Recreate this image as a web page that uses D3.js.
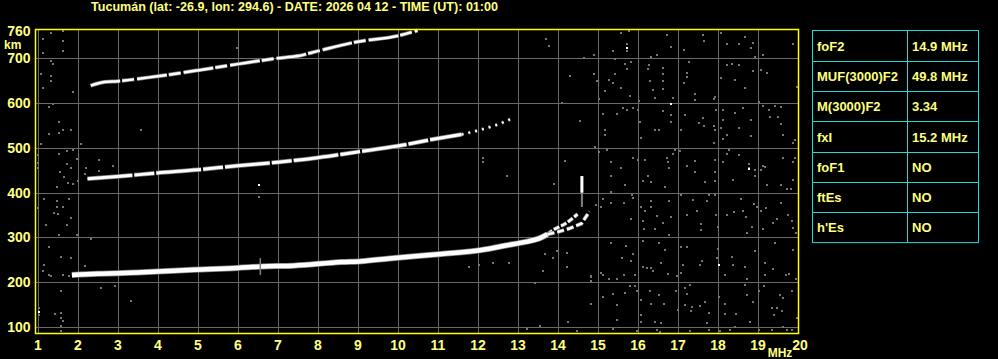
<!DOCTYPE html>
<html>
<head>
<meta charset="utf-8">
<script src="https://cdn.jsdelivr.net/npm/d3@7"></script>
<style>
  body { margin: 0; background: #000; }
  svg { display: block; }
  .lab { fill: #ffff80; font-family: "Liberation Sans", Arial, sans-serif; font-weight: bold; }
</style>
</head>
<body>
<script>
// chart size
var W = 998, H = 359;
var frame = {left: 35.5, top: 29.5, right: 798.5, bottom: 333.5};

var title = "Tucumán (lat: -26.9, lon: 294.6) - DATE: 2026 04 12 - TIME (UT): 01:00";

// tick labels
var freqLabels = [1, 2, 3, 4, 5, 6, 7, 8, 9, 10, 11, 12, 13, 14, 15, 16, 17, 18, 19, 20];
var heightLabels = [100, 200, 300, 400, 500, 600, 700];

// scaled parameters table
var paramNames = ["foF2", "MUF(3000)F2", "M(3000)F2", "fxI", "foF1", "ftEs", "h'Es"];
var paramValues = ["14.9 MHz", "49.8 MHz", "3.34", "15.2 MHz", "NO", "NO", "NO"];

// traces [MHz, km]
var traceF = [[1.86, 216], [2.5, 219], [3, 220], [4, 224], [4.9, 228], [6, 232], [6.6, 235], [7.4, 237],
              [8.6, 245], [9.1, 247], [9.8, 253], [11.1, 263], [12.1, 272], [12.7, 282], [13.2, 290],
              [13.55, 298], [13.75, 307]];
var traceO = [[13.75, 307], [13.9, 317], [14.2, 331], [14.5, 352]];
var traceX = [[13.75, 307], [14.0, 312], [14.3, 320], [14.6, 331], [14.8, 358]];
var spike = [[14.61, 368], [14.61, 437]];
var trace2F = [[2.25, 431], [3, 436], [4, 444], [5, 451], [6, 460], [7, 468], [8, 478], [9, 491],
               [10, 504], [11, 521], [11.6, 530]];
var trace2Ftail = [[11.6, 530], [12.1, 541], [12.5, 552], [12.9, 567]];
var trace3F = [[2.33, 639], [2.67, 647], [3, 649], [4, 660], [5, 673], [6, 687], [7, 700], [7.5, 705],
               [8, 716], [9, 737], [10, 750], [10.5, 762]];
var ticks = [[6.57, 216, 254]];

// background noise [MHz, km]
var noise = [
 [15.59,757],[15.79,761],[15.73,732],[15.73,716],[15.38,716],[14.92,708],[16.34,704],[16.48,707],[16.73,753],
 [16.84,725],[17.15,719],[17.63,753],[17.65,739],[18.08,757],[18.23,731],[18.53,731],[18.69,748],[18.88,735],
 [18.83,722],[19.13,708],[18.94,703],[19.90,731],[15.44,699],
 [15.69,688],[15.83,692],[14.90,664],[14.98,649],[15.19,626],[15.28,652],[15.38,645],[15.44,666],[15.58,634],
 [15.73,675],[15.80,616],[15.03,609],[16.28,686],[16.25,675],[16.30,649],[16.40,630],[16.63,678],[16.63,664],
 [16.63,649],[16.63,631],[16.44,611],[16.88,611],[16.03,604],[17.23,667],[17.23,658],[17.15,645],[17.29,692],
 [17.44,620],[17.44,608],[17.90,609],[17.94,613],[18.23,684],[18.36,688],[18.53,686],[18.09,656],[18.44,652],
 [18.69,634],[18.88,671],[19.09,673],[19.23,667],[19.04,602],[19.98,637],
 [15.13,576],[15.19,541],[15.19,528],[15.48,576],[15.63,589],[15.73,585],[15.88,588],[16.00,585],[16.05,558],
 [16.08,522],[16.44,541],[16.54,541],[16.63,582],[16.84,573],[16.84,558],[17.19,574],[17.08,541],[17.63,567],
 [17.54,556],[17.65,548],[17.90,548],[17.94,541],[17.90,511],[17.97,585],[18.13,585],[18.15,563],[18.08,544],
 [18.23,529],[18.15,520],[18.44,578],[18.53,544],[18.63,589],[18.84,563],[18.83,527],[19.13,594],[19.29,585],
 [19.44,593],[19.59,591],[19.32,570],[19.50,570],[19.59,554],[19.63,528],[19.88,511],[19.94,518],[14.93,501],
 [15.03,491],[15.23,496],[15.33,468],[15.33,438],[15.59,455],[15.69,416],[15.88,477],[16.00,474],[16.19,474],
 [16.13,427],[16.25,438],[16.34,423],[16.69,413],[16.73,477],[16.76,468],[16.79,455],[16.90,486],[16.94,496],
 [17.05,494],[17.23,460],[17.44,470],[17.44,446],[17.69,423],[17.94,474],[17.94,446],[17.94,425],[18.23,486],
 [18.28,496],[18.53,485],[18.38,429],[18.13,468],[18.78,464],[18.78,455],[18.94,451],[18.94,438],[19.09,451],
 [19.13,460],[19.19,458],[19.25,418],[19.58,418],[19.63,477],[19.88,468],[19.93,477],[19.73,408],[19.84,408],
 [19.88,429],
 [15.13,386],[15.34,401],[15.33,378],[14.97,373],[15.09,368],[15.65,377],[15.86,394],[15.88,387],[15.83,341],
 [16.09,368],[16.13,337],[16.19,358],[16.15,319],[16.34,381],[16.34,369],[16.48,347],[16.63,332],[16.79,382],
 [16.84,346],[16.79,305],[16.44,319],[17.08,395],[17.23,349],[17.38,383],[17.48,360],[17.58,330],[17.58,317],
 [17.73,381],[17.78,395],[17.94,395],[17.97,351],[18.00,323],[18.23,351],[18.42,357],[18.59,386],[18.63,360],
 [18.72,345],[18.73,311],[18.86,323],[18.90,375],[18.98,368],[19.08,360],[19.13,319],[19.21,366],[19.38,332],
 [19.48,341],[19.59,377],[19.75,349],[19.86,336],[19.90,321],[19.97,310],
 [15.33,287],[15.61,254],[15.72,280],[15.88,263],[15.83,247],[15.09,220],[15.13,217],[15.28,207],[15.48,207],
 [15.65,217],[15.94,215],[16.13,293],[16.13,234],[16.23,232],[16.33,232],[16.38,224],[16.53,287],[16.58,243],
 [16.68,273],[16.75,218],[16.98,213],[17.08,279],[17.23,279],[17.13,239],[17.09,220],[17.55,239],[17.61,247],
 [18.00,275],[17.98,254],[18.04,239],[18.19,217],[18.36,256],[18.38,239],[18.68,234],[18.73,207],[18.94,270],
 [19.19,243],[19.19,217],[19.38,230],[19.44,287],[19.70,215],[19.78,218],[19.89,273],[19.96,208],[14.84,213],
 [15.13,168],[15.38,174],[15.48,150],[15.48,116],[15.69,176],[15.80,192],[15.94,191],[15.98,180],[16.09,161],
 [16.08,127],[16.08,112],[16.30,180],[16.33,151],[16.43,112],[16.53,172],[16.58,109],[16.67,151],[16.97,180],
 [17.00,139],[17.19,187],[17.23,174],[17.19,150],[17.30,194],[17.36,144],[17.34,135],[17.57,148],[17.69,156],
 [17.78,131],[17.73,109],[18.03,166],[18.19,151],[18.19,129],[18.46,129],[18.69,194],[18.73,172],[18.88,156],
 [18.82,112],[19.03,180],[19.15,191],[19.36,142],[19.40,127],[19.48,142],[19.57,172],[19.63,165],[19.61,135],
 [19.86,180],[19.98,120],[14.84,151],
 [15.38,95],[15.98,90],[16.48,94],[16.57,89],[17.30,90],[17.78,94],[18.07,90],[18.32,94],[18.44,100],[19.03,94],
 [19.36,94],[19.63,101],[19.73,94],[19.86,94],
 [1.33,757],[1.63,760],[1.63,738],[1.63,716],[1.13,743],[1.13,712],[1.33,693],[1.38,688],[1.08,666],[1.33,660],
 [1.33,649],[1.13,634],[1.88,625],[1.28,591],[1.38,597],[1.53,558],[1.53,533],[1.63,541],[1.83,541],[1.28,531],
 [1.08,509],[2.08,509],[3.58,541],[1.00,483],[1.00,466],[1.00,455],[1.53,486],[1.73,494],[1.88,496],[1.73,464],
 [1.83,454],[1.55,446],[1.67,435],[1.75,422],[1.88,419],[2.00,425],[1.48,413],[2.21,455],[2.54,474],[2.54,449],
 [2.89,460],[2.19,442],[1.98,475],[1.17,386],[1.48,382],[1.48,369],[1.63,368],[1.78,386],[1.00,366],[1.42,355],
 [1.50,352],[1.83,343],[1.21,328],[1.73,328],[1.53,306],[1.98,306],[2.33,297],[1.28,279],[1.58,256],[1.83,254],
 [2.19,237],[1.17,239],[1.13,224],[1.28,217],[1.33,213],[1.63,217],[1.79,213],[1.58,181],[2.58,187],[2.93,191],
 [3.33,157],[1.04,142],[1.04,127],[1.43,130],[1.58,131],[1.58,121],[1.63,114],[1.58,103],[1.58,90],[5.98,722],
 [6.54,390],[12.13,477],[12.13,469],[12.73,438],
 [11.78,235],[12.03,238],[12.38,244],[12.79,244],[13.68,262],[13.88,253],[14.23,265],[13.98,270],[14.23,235],
 [13.63,226],[14.83,212],[14.83,203],[13.44,198],[13.57,102],[13.23,95],[14.27,112],[14.50,90],
 [13.70,742],[13.78,728],[14.30,660],[14.55,560],[14.20,470],[13.90,420],[14.65,700],[14.10,600]
];
var noiseWhite = [[15.73,722],[16.83,598],[18.78,452],[18.04,239],[1.04,133],[6.54,416]];

var svg = d3.select("body").append("svg")
    .attr("width", W)
    .attr("height", H)
    .style("background", "#000");

var x = d3.scaleLinear().domain([1, 20]).range([37.5, 797.5]);
var y = d3.scaleLinear().domain([100, 700]).range([327, 58.3]);

// ---------- grid ----------
svg.append("g")
    .attr("transform", "translate(0," + frame.bottom + ")")
    .attr("shape-rendering", "crispEdges")
    .call(d3.axisBottom(x).tickValues(freqLabels).tickSize(-(frame.bottom - frame.top)).tickFormat(""))
    .call(function(g) { g.select(".domain").remove(); })
    .selectAll("line").attr("stroke", "#6a6a6a");

svg.append("g")
    .attr("transform", "translate(" + frame.left + ",0)")
    .attr("shape-rendering", "crispEdges")
    .call(d3.axisLeft(y).tickValues(heightLabels).tickSize(-(frame.right - frame.left)).tickFormat(""))
    .call(function(g) { g.select(".domain").remove(); })
    .selectAll("line").attr("stroke", "#6a6a6a");

// ---------- noise ----------
svg.append("g").attr("shape-rendering", "crispEdges").selectAll("rect")
    .data(noise)
    .enter().append("rect")
    .attr("x", function(d) { return Math.round(x(d[0])) - 1; })
    .attr("y", function(d) { return Math.round(y(d[1])) - 1; })
    .attr("width", 2)
    .attr("height", 2)
    .attr("fill", "#767676");

svg.append("g").attr("shape-rendering", "crispEdges").selectAll("rect")
    .data(noiseWhite)
    .enter().append("rect")
    .attr("x", function(d) { return Math.round(x(d[0])) - 1; })
    .attr("y", function(d) { return Math.round(y(d[1])) - 1; })
    .attr("width", 2)
    .attr("height", 2)
    .attr("fill", "#fff");

// ---------- traces ----------
var line = d3.line()
    .x(function(d) { return x(d[0]); })
    .y(function(d) { return y(d[1]); })
    .curve(d3.curveMonotoneX);
var lineV = d3.line()
    .x(function(d) { return x(d[0]); })
    .y(function(d) { return y(d[1]); });

function trace(data, width, dash, gen) {
    gen = gen || line;
    svg.append("path")
        .attr("d", gen(data))
        .attr("fill", "none")
        .attr("stroke", "#808080")
        .attr("stroke-width", width + 1.5)
        .attr("stroke-dasharray", dash);
    svg.append("path")
        .attr("d", gen(data))
        .attr("fill", "none")
        .attr("stroke", "#fff")
        .attr("stroke-width", width)
        .attr("stroke-dasharray", dash);
}

trace(traceF, 4.5, null);
trace(traceO, 2.5, "6 2");
trace(traceX, 2.5, "7 3", lineV);
trace(trace2F, 3, "45 2 20 2");
trace(trace2Ftail, 2, "2 5");
trace(trace3F, 2.5, "30 2 12 3");

svg.append("path")
    .attr("d", lineV(spike))
    .attr("stroke", "#808080")
    .attr("stroke-width", 2);
svg.append("path")
    .attr("d", lineV([spike[1], [spike[1][0], 400]]))
    .attr("stroke", "#fff")
    .attr("stroke-width", 3);

svg.selectAll(".tickmark")
    .data(ticks)
    .enter().append("line")
    .attr("class", "tickmark")
    .attr("x1", function(d) { return x(d[0]); })
    .attr("x2", function(d) { return x(d[0]); })
    .attr("y1", function(d) { return y(d[1]); })
    .attr("y2", function(d) { return y(d[2]); })
    .attr("stroke", "#808080")
    .attr("stroke-width", 1.5);

// ---------- frame ----------
svg.append("rect")
    .attr("x", frame.left)
    .attr("y", frame.top)
    .attr("width", frame.right - frame.left)
    .attr("height", frame.bottom - frame.top)
    .attr("fill", "none")
    .attr("stroke", "#ffff00")
    .attr("stroke-width", 1.5);

// ---------- axis labels ----------
var yAxis = svg.append("g")
    .attr("transform", "translate(" + frame.left + ",0)")
    .call(d3.axisLeft(y).tickValues(heightLabels.concat([760])).tickSize(0).tickPadding(5));
yAxis.select(".domain").remove();
yAxis.selectAll("text")
    .attr("class", "lab")
    .style("font-size", "14px")
    .attr("fill", null);

svg.append("text")
    .attr("class", "lab")
    .attr("x", 4)
    .attr("y", 49)
    .style("font-size", "12px")
    .text("km");

var xAxis = svg.append("g")
    .attr("transform", "translate(0," + frame.bottom + ")")
    .call(d3.axisBottom(x).tickValues(freqLabels).tickSize(0).tickPadding(7));
xAxis.select(".domain").remove();
xAxis.selectAll("text")
    .attr("class", "lab")
    .style("font-size", "14px")
    .attr("fill", null);
xAxis.selectAll(".tick").filter(function(d) { return d === 20; })
    .select("text").attr("x", 2);

svg.append("text")
    .attr("class", "lab")
    .attr("x", 780)
    .attr("y", 357)
    .attr("text-anchor", "middle")
    .style("font-size", "12px")
    .text("MHz");

// ---------- title ----------
svg.append("text")
    .attr("class", "lab")
    .attr("x", 91)
    .attr("y", 11)
    .attr("textLength", 407)
    .attr("lengthAdjust", "spacingAndGlyphs")
    .style("font-size", "12px")
    .text(title);

// ---------- table ----------
var tbl = {x: 812.5, x2: 907.5, w: 166, top: 30.5, rowH: 30.3};
var tg = svg.append("g");
tg.append("rect")
    .attr("x", tbl.x)
    .attr("y", tbl.top)
    .attr("width", tbl.w)
    .attr("height", tbl.rowH * paramNames.length)
    .attr("fill", "none")
    .attr("stroke", "#22d8d8");
tg.append("line")
    .attr("x1", tbl.x2).attr("x2", tbl.x2)
    .attr("y1", tbl.top).attr("y2", tbl.top + tbl.rowH * paramNames.length)
    .attr("stroke", "#22d8d8");
tg.selectAll(".row")
    .data(paramNames.slice(1))
    .enter().append("line")
    .attr("x1", tbl.x).attr("x2", tbl.x + tbl.w)
    .attr("y1", function(d, i) { return Math.round(tbl.top + (i + 1) * tbl.rowH) + 0.5; })
    .attr("y2", function(d, i) { return Math.round(tbl.top + (i + 1) * tbl.rowH) + 0.5; })
    .attr("stroke", "#22d8d8");
tg.selectAll(".pname")
    .data(paramNames)
    .enter().append("text")
    .attr("class", "lab")
    .attr("x", 817)
    .attr("y", function(d, i) { return tbl.top + i * tbl.rowH + tbl.rowH / 2 + 5; })
    .style("font-size", "13px")
    .text(function(d) { return d; });
tg.selectAll(".pval")
    .data(paramValues)
    .enter().append("text")
    .attr("class", "lab")
    .attr("x", 912)
    .attr("y", function(d, i) { return tbl.top + i * tbl.rowH + tbl.rowH / 2 + 5; })
    .style("font-size", "13px")
    .text(function(d) { return d; });
</script>
</body>
</html>
